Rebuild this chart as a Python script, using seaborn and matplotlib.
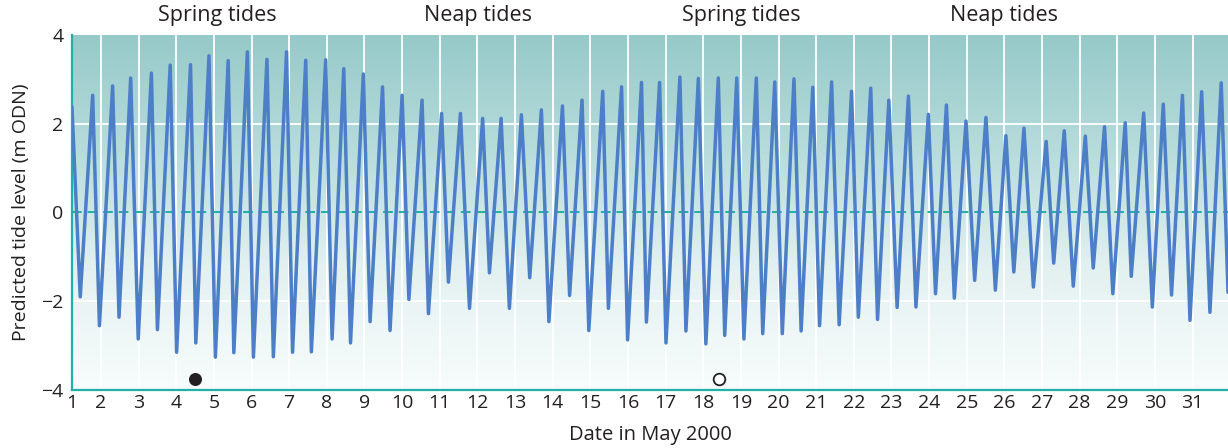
import matplotlib
matplotlib.use("Agg")
import matplotlib.pyplot as plt
from matplotlib.colors import LinearSegmentedColormap
import seaborn as sns
import pandas as pd
import numpy as np

# Turning points of the predicted tide (day of May 2000, level in m ODN)
DAYS = [
    1.23, 1.45, 1.78, 1.96, 2.31, 2.48, 2.79, 2.99, 3.34, 3.50,
    3.84, 4.01, 4.38, 4.52, 4.87, 5.04, 5.38, 5.53, 5.89, 6.05,
    6.41, 6.58, 6.93, 7.09, 7.44, 7.59, 7.97, 8.14, 8.45, 8.63,
    8.97, 9.15, 9.48, 9.68, 10.00, 10.18, 10.53, 10.70, 11.05, 11.23,
    11.55, 11.79, 12.14, 12.32, 12.63, 12.85, 13.17, 13.39, 13.70, 13.90,
    14.26, 14.45, 14.78, 14.96, 15.33, 15.48, 15.83, 15.99, 16.36, 16.49,
    16.84, 17.01, 17.38, 17.54, 17.87, 18.07, 18.40, 18.57, 18.89, 19.08,
    19.41, 19.58, 19.90, 20.10, 20.41, 20.60, 20.91, 21.09, 21.41, 21.61,
    21.94, 22.12, 22.45, 22.63, 22.93, 23.15, 23.45, 23.65, 23.98, 24.17,
    24.46, 24.67, 24.98, 25.21, 25.51, 25.76, 26.04, 26.25, 26.52, 26.77,
    27.11, 27.31, 27.59, 27.83, 28.15, 28.36, 28.66, 28.88, 29.21, 29.37,
    29.70, 29.93, 30.22, 30.44, 30.73, 30.93, 31.24, 31.46, 31.76, 31.94,
]
LEVELS = [
    2.38, -1.90, 2.64, -2.55, 2.85, -2.36, 3.03, -2.85, 3.14, -2.64,
    3.32, -3.15, 3.33, -2.94, 3.53, -3.26, 3.42, -3.16, 3.62, -3.26,
    3.45, -3.25, 3.62, -3.15, 3.43, -3.14, 3.44, -2.85, 3.24, -2.94,
    3.12, -2.46, 2.83, -2.66, 2.64, -1.96, 2.53, -2.28, 2.23, -1.57,
    2.23, -2.16, 2.12, -1.36, 2.12, -2.16, 2.20, -1.47, 2.31, -2.46,
    2.40, -1.87, 2.53, -2.66, 2.73, -2.16, 2.83, -2.87, 2.93, -2.47,
    2.93, -2.94, 3.05, -2.67, 3.02, -2.96, 3.03, -2.77, 3.03, -2.85,
    3.03, -2.73, 2.94, -2.73, 3.01, -2.67, 2.82, -2.55, 2.94, -2.53,
    2.73, -2.36, 2.80, -2.41, 2.53, -2.14, 2.62, -2.13, 2.21, -1.83,
    2.42, -1.93, 2.06, -1.53, 2.14, -1.75, 1.73, -1.34, 1.90, -1.68,
    1.60, -1.14, 1.84, -1.66, 1.72, -1.25, 1.93, -1.83, 2.02, -1.44,
    2.24, -2.13, 2.44, -1.86, 2.64, -2.43, 2.72, -2.25, 2.92, -1.80,
]

# moon phase markers (new moon filled, full moon open)
MOON_DAYS = [4.51, 18.42]
MOON_LEVEL = -3.75

PHASE_LABELS = ["Spring tides", "Neap tides", "Spring tides", "Neap tides"]
PHASE_DAYS = [5.09, 12.02, 19.0, 26.0]

TICK_DAYS = [1.23] + list(range(2, 32))
TICK_LABELS = [str(d) for d in range(1, 32)]
Y_TICKS = [-4, -2, 0, 2, 4]

TEAL = "#1fb0a6"
LINE = "#4d7ec8"
TEXT = "#231f20"

sns.set_style("white")
plt.rcParams["font.family"] = ["Open Sans", "DejaVu Sans"]

df = pd.DataFrame({"day": DAYS, "level": LEVELS})

fig = plt.figure(figsize=(12.28, 4.48), dpi=100)
ax = fig.add_axes([0.0586, 0.1295, 0.9414, 0.7925])

x0, x1 = DAYS[0], DAYS[-1]
ax.set_xlim(x0, x1)
ax.set_ylim(-4, 4)

# background gradient, teal at the top fading to white
cmap = LinearSegmentedColormap.from_list("bg", ["#f8fcfc", "#e4f1f1", "#b8dcdc", "#96c9c9"])
grad = np.linspace(0, 1, 256).reshape(-1, 1)
ax.imshow(grad, cmap=cmap, aspect="auto", origin="lower",
          extent=[x0, x1, -4, 4], zorder=0)

for d in range(2, 32):
    ax.axvline(d, color="white", lw=1.3, zorder=1)
for v in [-2, 2]:
    ax.axhline(v, color="white", lw=1.3, zorder=1)
ax.axhline(0, color=TEAL, lw=1.4, ls=(0, (5, 3)), zorder=2)

sns.lineplot(data=df, x="day", y="level", ax=ax, color=LINE, lw=2.5,
             zorder=3, sort=False)

ax.scatter([MOON_DAYS[0]], [MOON_LEVEL], s=70, color=TEXT, zorder=4, clip_on=False)
ax.scatter([MOON_DAYS[1]], [MOON_LEVEL], s=70, facecolor="white",
           edgecolor=TEXT, lw=1.3, zorder=4, clip_on=False)

for lab, d in zip(PHASE_LABELS, PHASE_DAYS):
    ax.text(d, 4.2, lab, ha="center", va="bottom", fontsize=15.5, color=TEXT)

ax.set_xticks(TICK_DAYS)
ax.set_xticklabels(TICK_LABELS)
ax.set_yticks(Y_TICKS)
ax.set_yticklabels(["\u22124", "\u22122", "0", "2", "4"])
ax.tick_params(axis="both", length=0, labelsize=14, colors=TEXT, pad=3)
ax.tick_params(axis="y", pad=6)

ax.set_xlabel("Date in May 2000", fontsize=14.5, color=TEXT, labelpad=9)
ax.set_ylabel("Predicted tide level (m ODN)", fontsize=14, color=TEXT, labelpad=8)

for s in ["top", "right"]:
    ax.spines[s].set_visible(False)
for s in ["left", "bottom"]:
    ax.spines[s].set_color(TEAL)
    ax.spines[s].set_linewidth(1.6)

fig.savefig("out.png", dpi=100)
